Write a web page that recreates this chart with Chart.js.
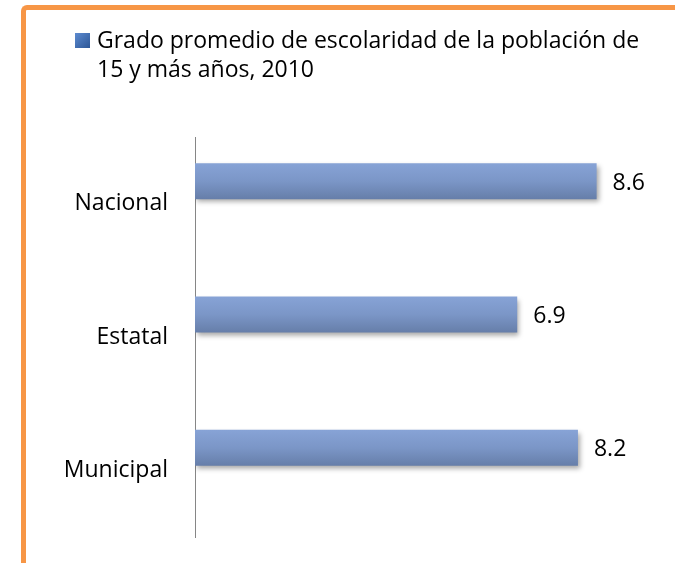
<!DOCTYPE html>
<html lang="es">
<head>
    <meta charset="utf-8">
    <title>Grado promedio de escolaridad</title>
    <script src="https://cdn.jsdelivr.net/npm/chart.js@4.4.0/dist/chart.umd.min.js"></script>
    <style>
        body { margin: 0; background: #fff; overflow: hidden; }
        #wrap { position: relative; width: 675px; height: 563px; overflow: hidden; }
        #frame {
            position: absolute; left: 21px; top: 5px; width: 700px; height: 600px;
            border-left: 5px solid #f79646; border-top: 5px solid #f79646;
            border-top-left-radius: 6px;
        }
        canvas { position: absolute; left: 0; top: 0; }
    </style>
</head>
<body>
<div id="wrap">
    <div id="frame"></div>
    <canvas id="chart" width="675" height="563"></canvas>
</div>
<script>
    // data
    const categories = ['Nacional', 'Estatal', 'Municipal'];
    const values = [8.6, 6.9, 8.2];
    const seriesLabel = ['Grado promedio de escolaridad de la población de', '15 y más años, 2010'];
    const spacer = [null, null, null]; // empty second series, pushes the bars up like in the excel chart

    const FONT = '"Open Sans", "Noto Sans", sans-serif';
    const FONT_SIZE = 23;

    // bar gradient + soft shadow
    const barStyle = {
        id: 'barStyle',
        beforeDatasetDraw(chart, args) {
            if (args.index !== 0) return;
            const ctx = chart.ctx;
            args.meta.data.forEach(function (bar) {
                const top = bar.y - bar.height / 2;
                const g = ctx.createLinearGradient(0, top, 0, top + bar.height);
                g.addColorStop(0, '#87a3d6');
                g.addColorStop(0.5, '#7b96c7');
                g.addColorStop(1, '#667ea9');
                // own copy per bar, resolved options can be shared
                bar.options = Object.assign({}, bar.options, { backgroundColor: g });
            });
            ctx.save();
            ctx.shadowColor = 'rgba(0,0,0,0.35)';
            ctx.shadowBlur = 5;
            ctx.shadowOffsetX = 2;
            ctx.shadowOffsetY = 3;
        },
        afterDatasetDraw(chart, args) {
            if (args.index !== 0) return;
            chart.ctx.restore();
        }
    };

    // value next to each bar
    const valueLabels = {
        id: 'valueLabels',
        afterDatasetsDraw(chart) {
            const ctx = chart.ctx;
            const meta = chart.getDatasetMeta(0);
            ctx.save();
            ctx.font = FONT_SIZE + 'px ' + FONT;
            ctx.fillStyle = '#000';
            ctx.textAlign = 'left';
            ctx.textBaseline = 'middle';
            meta.data.forEach(function (bar, i) {
                ctx.fillText(values[i].toFixed(1), bar.x + 16, bar.y + 2);
            });
            ctx.restore();
        }
    };

    // legend in the top left, two lines like the original
    const topLegend = {
        id: 'topLegend',
        afterDraw(chart) {
            const ctx = chart.ctx;
            ctx.save();
            const g = ctx.createLinearGradient(75, 33, 90, 48);
            g.addColorStop(0, '#5d8bd0');
            g.addColorStop(1, '#2c5696');
            ctx.fillStyle = g;
            ctx.fillRect(75, 33, 15, 15);
            ctx.font = FONT_SIZE + 'px ' + FONT;
            ctx.fillStyle = '#000';
            ctx.textBaseline = 'alphabetic';
            ctx.fillText(seriesLabel[0], 97, 48);
            ctx.fillText(seriesLabel[1], 97, 77);
            ctx.restore();
        }
    };

    const config = {
        type: 'bar',
        data: {
            labels: categories,
            datasets: [{
                label: seriesLabel.join(' '),
                data: values,
                backgroundColor: '#7d98c9',
                borderWidth: 0,
                categoryPercentage: 0.675,
                barPercentage: 0.8
            }, {
                label: '',
                data: spacer,
                backgroundColor: 'rgba(0,0,0,0)',
                categoryPercentage: 0.675,
                barPercentage: 0.8
            }]
        },
        options: {
            indexAxis: 'y',
            responsive: false,
            animation: false,
            layout: {
                autoPadding: false,
                padding: { top: 137, bottom: 26, left: 0, right: 13 }
            },
            plugins: {
                legend: { display: false },
                tooltip: { enabled: false }
            },
            scales: {
                x: {
                    display: false,
                    min: 0,
                    max: 10
                },
                y: {
                    grid: { display: false, drawTicks: false },
                    border: { display: true, color: '#868686', width: 1 },
                    ticks: {
                        padding: 27,
                        color: '#000',
                        font: { family: FONT, size: FONT_SIZE }
                    },
                    afterFit: function (scale) {
                        scale.width = 195;
                        // labels are far from the ends, no extra room needed
                        scale.paddingTop = 0;
                        scale.paddingBottom = 0;
                    }
                }
            }
        },
        plugins: [barStyle, valueLabels, topLegend]
    };

    window.onload = function () {
        const ctx = document.getElementById('chart').getContext('2d');
        window.myChart = new Chart(ctx, config);
    };
</script>
</body>
</html>
